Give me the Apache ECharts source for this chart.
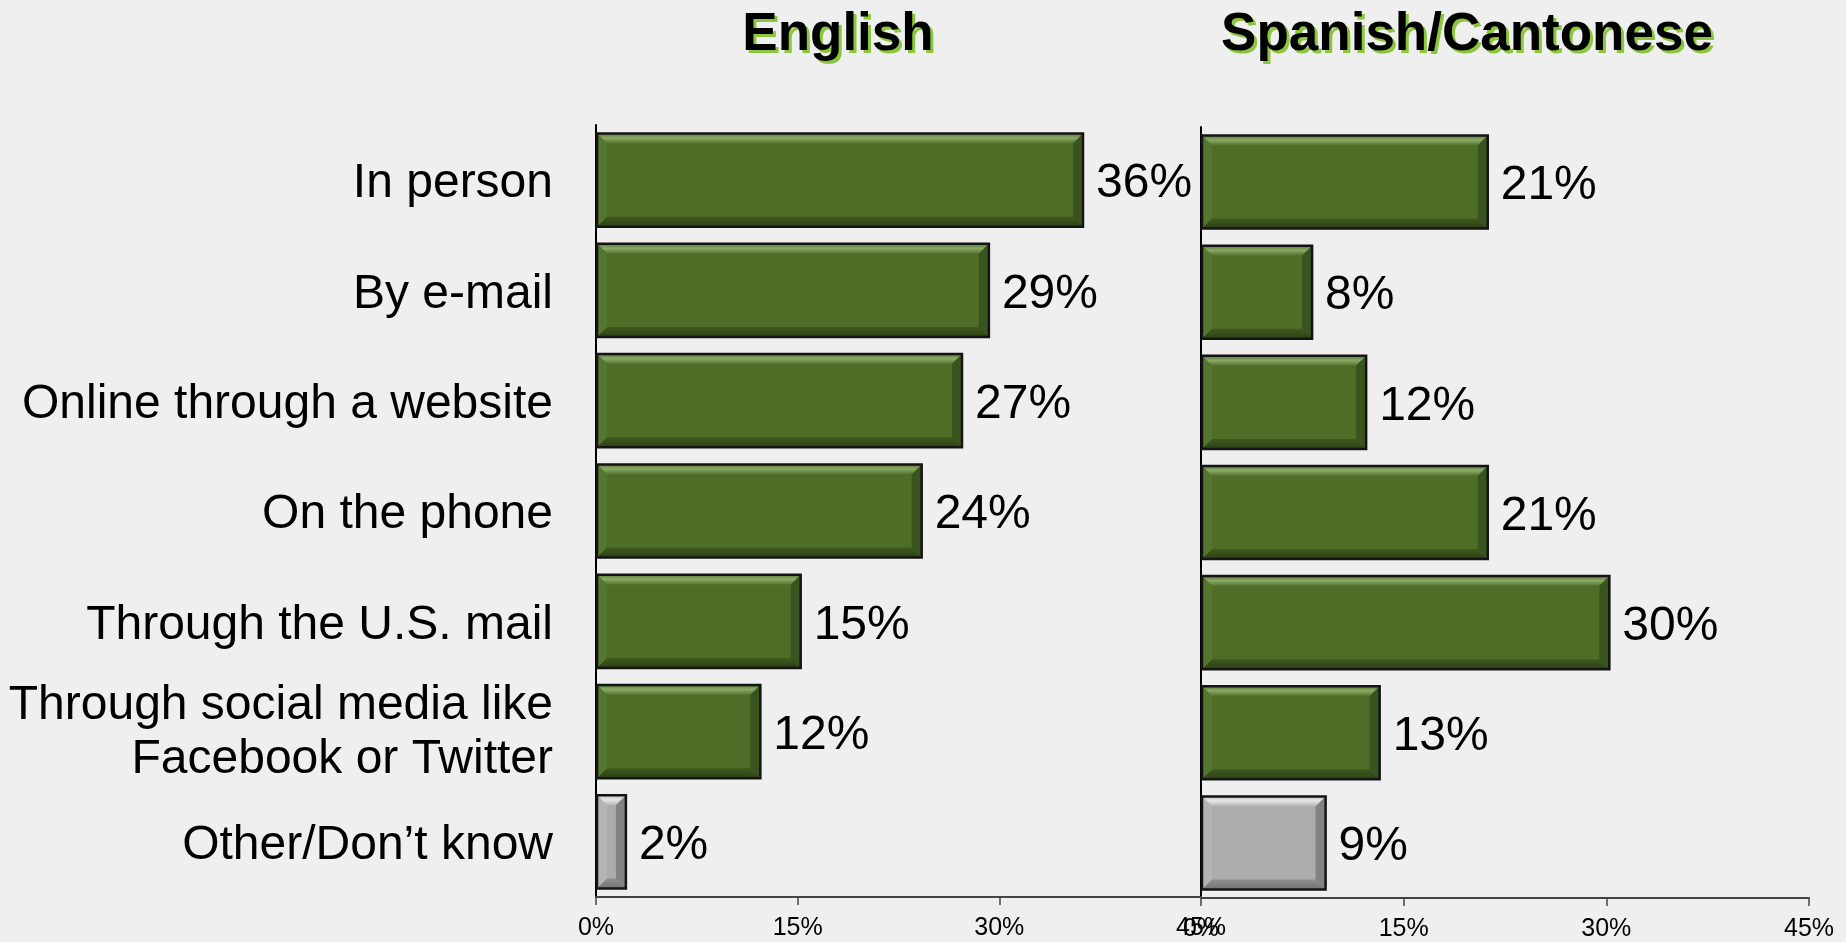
<!DOCTYPE html>
<html>
<head>
<meta charset="utf-8">
<script src="https://cdn.jsdelivr.net/npm/echarts@6/dist/echarts.min.js"></script>
<style>
html,body{margin:0;padding:0;background:#efefef;}
#chart{width:1846px;height:942px;}
</style>
</head>
<body>
<div id="chart"></div>
<script>
const categories = ['In person','By e-mail','Online through a website','On the phone','Through the U.S. mail','Through social media like\nFacebook or Twitter','Other/Don\u2019t know'];
const englishValues = [36, 29, 27, 24, 15, 12, 2];
const spanishValues = [21, 8, 12, 21, 30, 13, 9];
const panelTitles = ['English', 'Spanish/Cantonese'];

const FONT = "'Liberation Sans', Arial, sans-serif";
const GREEN = {main:'#4e6d27', top:['#5b7b34','#8aaa68','#52722c'], bottom:['#3f5a1e','#2c4015'], left:'#55762f', right:'#3a5420'};
const GRAY = {main:'#acacac', top:['#c4c4c4','#e6e6e6','#b3b3b3'], bottom:['#909090','#737373'], left:'#b4b4b4', right:'#828282'};

function makeData(vals, withCat){
  return vals.map((v,i)=>[v, categories[i], i === categories.length-1 ? 1 : 0, withCat ? 1 : 0]);
}

function renderBevel(params, api){
  const v = api.value(0);
  const idx = params.dataIndex;
  const isGray = api.value(2) === 1;
  const withCat = api.value(3) === 1;
  const c = isGray ? GRAY : GREEN;
  const p0 = api.coord([0, categories[idx]]);
  const p1 = api.coord([v, categories[idx]]);
  const band = api.size([0, 1])[1];
  const h = band * 0.845;
  const x0 = p0[0] + 1, x1 = p1[0] + 3;
  const y0 = p0[1] - h/2, y1 = p0[1] + h/2;
  const w = x1 - x0;
  const b = Math.min(10, w/2, h/2);
  const children = [
    {type:'rect', shape:{x:x0,y:y0,width:w,height:h}, style:{fill:c.main}},
    {type:'polygon', shape:{points:[[x0,y0],[x1,y0],[x1-b,y0+b],[x0+b,y0+b]]},
      style:{fill:new echarts.graphic.LinearGradient(0,0,0,1,[{offset:0,color:c.top[0]},{offset:0.45,color:c.top[1]},{offset:1,color:c.top[2]}])}},
    {type:'polygon', shape:{points:[[x0,y0],[x0+b,y0+b],[x0+b,y1-b],[x0,y1]]}, style:{fill:c.left}},
    {type:'polygon', shape:{points:[[x1,y0],[x1-b,y0+b],[x1-b,y1-b],[x1,y1]]}, style:{fill:c.right}},
    {type:'polygon', shape:{points:[[x0,y1],[x1,y1],[x1-b,y1-b],[x0+b,y1-b]]},
      style:{fill:new echarts.graphic.LinearGradient(0,0,0,1,[{offset:0,color:c.bottom[0]},{offset:1,color:c.bottom[1]}])}},
    {type:'rect', shape:{x:x0,y:y0,width:w,height:h}, style:{fill:null, stroke:'#141414', lineWidth:2.5}},
    {type:'text', x:x1+13, y:p0[1]+4, style:{text:v+'%', fill:'#000', font:'48px '+FONT, align:'left', verticalAlign:'middle'}}
  ];
  if (withCat) {
    const multi = categories[idx].indexOf('\n') >= 0;
    children.push({type:'text', x:p0[0]-43, y:p0[1]+(multi ? 1 : 4),
      style:{text:categories[idx], fill:'#000', font:'48px '+FONT, align:'right', verticalAlign:'middle', lineHeight:54}});
  }
  return {type:'group', children};
}

function xAxisFor(gi){
  return {
    gridIndex:gi, type:'value', min:0, max:45, interval:15,
    axisLine:{show:true, lineStyle:{color:'#444', width:2}},
    axisTick:{show:true, length:8, lineStyle:{color:'#444', width:1.5}},
    splitLine:{show:false},
    axisLabel:{formatter:'{value}%', fontSize:25, color:'#000', fontFamily:FONT, margin:19}
  };
}

function titleFor(text, cx, color, dx){
  return {text:text, left:cx+dx, top:4+dx, textAlign:'center', z: dx ? 1 : 2,
    textStyle:{fontSize:53, fontWeight:'bold', color:color, fontFamily:FONT}};
}

const option = {
  backgroundColor:'#efefef',
  animation:false,
  title:[
    titleFor(panelTitles[0], 833, '#8cc63f', 3),
    titleFor(panelTitles[0], 833, '#000', 0),
    titleFor(panelTitles[1], 1462, '#8cc63f', 3),
    titleFor(panelTitles[1], 1462, '#000', 0)
  ],
  grid:[
    {left:596, right:645, top:125, bottom:45, containLabel:false},
    {left:1201, right:37, top:127, bottom:44, containLabel:false}
  ],
  xAxis:[xAxisFor(0), xAxisFor(1)],
  yAxis:[
    {gridIndex:0, type:'category', data:categories, inverse:true,
     axisLine:{show:true, lineStyle:{color:'#000', width:2}}, axisTick:{show:false},
     axisLabel:{show:false}},
    {gridIndex:1, type:'category', data:categories, inverse:true,
     axisLine:{show:true, lineStyle:{color:'#000', width:2}}, axisTick:{show:false},
     axisLabel:{show:false}}
  ],
  series:[
    {type:'custom', name:panelTitles[0], xAxisIndex:0, yAxisIndex:0, data:makeData(englishValues, true), encode:{x:0, y:1}, renderItem:renderBevel, clip:false},
    {type:'custom', name:panelTitles[1], xAxisIndex:1, yAxisIndex:1, data:makeData(spanishValues, false), encode:{x:0, y:1}, renderItem:renderBevel, clip:false}
  ]
};

const chart = echarts.init(document.getElementById('chart'));
chart.setOption(option);
</script>
</body>
</html>
